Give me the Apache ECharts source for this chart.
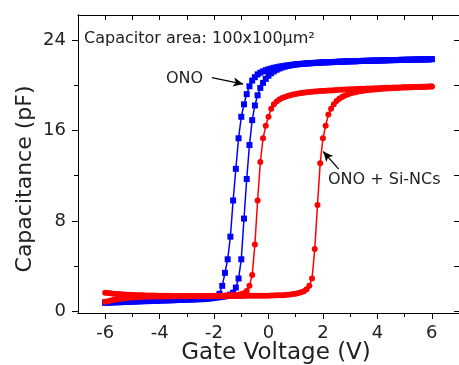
<!DOCTYPE html>
<html>
<head>
<meta charset="utf-8">
<script src="https://cdn.jsdelivr.net/npm/echarts@6/dist/echarts.min.js"></script>
<style>
  html, body { margin: 0; padding: 0; background: #fff; }
  #chart { width: 459px; height: 365px; }
</style>
</head>
<body>
<div id="chart"></div>
<script>
// gate voltage sweep, V
const gateVoltage = [
  -6.0, -5.9, -5.8, -5.7, -5.6, -5.5, -5.4, -5.3, -5.2, -5.1,
  -5.0, -4.9, -4.8, -4.7, -4.6, -4.5, -4.4, -4.3, -4.2, -4.1,
  -4.0, -3.9, -3.8, -3.7, -3.6, -3.5, -3.4, -3.3, -3.2, -3.1,
  -3.0, -2.9, -2.8, -2.7, -2.6, -2.5, -2.4, -2.3, -2.2, -2.1,
  -2.0, -1.9, -1.8, -1.7, -1.6, -1.5, -1.4, -1.3, -1.2, -1.1,
  -1.0, -0.9, -0.8, -0.7, -0.6, -0.5, -0.4, -0.3, -0.2, -0.1,
  0.0, 0.1, 0.2, 0.3, 0.4, 0.5, 0.6, 0.7, 0.8, 0.9,
  1.0, 1.1, 1.2, 1.3, 1.4, 1.5, 1.6, 1.7, 1.8, 1.9,
  2.0, 2.1, 2.2, 2.3, 2.4, 2.5, 2.6, 2.7, 2.8, 2.9,
  3.0, 3.1, 3.2, 3.3, 3.4, 3.5, 3.6, 3.7, 3.8, 3.9,
  4.0, 4.1, 4.2, 4.3, 4.4, 4.5, 4.6, 4.7, 4.8, 4.9,
  5.0, 5.1, 5.2, 5.3, 5.4, 5.5, 5.6, 5.7, 5.8, 5.9,
  6.0
];

// ONO, left branch (pF)
const onoLeft = [
  0.75, 0.76, 0.77, 0.78, 0.79, 0.80, 0.81, 0.82, 0.83, 0.84,
  0.85, 0.86, 0.87, 0.88, 0.89, 0.90, 0.90, 0.91, 0.92, 0.93,
  0.94, 0.95, 0.96, 0.96, 0.97, 0.98, 0.99, 1.00, 1.00, 1.01,
  1.02, 1.03, 1.04, 1.05, 1.06, 1.07, 1.08, 1.10, 1.12, 1.15,
  1.20, 1.30, 1.55, 2.25, 3.40, 4.60, 6.60, 9.80, 12.6, 15.3,
  17.2, 18.3, 19.2, 19.9, 20.4, 20.7, 20.95, 21.1, 21.22, 21.32,
  21.40, 21.47, 21.53, 21.58, 21.63, 21.67, 21.71, 21.75, 21.78, 21.81,
  21.84, 21.86, 21.88, 21.90, 21.92, 21.94, 21.95, 21.97, 21.98, 22.00,
  22.01, 22.02, 22.03, 22.04, 22.05, 22.06, 22.07, 22.08, 22.09, 22.10,
  22.11, 22.12, 22.12, 22.13, 22.14, 22.15, 22.15, 22.16, 22.17, 22.17,
  22.18, 22.19, 22.19, 22.20, 22.21, 22.21, 22.22, 22.22, 22.23, 22.24,
  22.24, 22.25, 22.25, 22.26, 22.26, 22.27, 22.27, 22.28, 22.28, 22.29,
  22.30
];

// ONO, right branch (pF)
const onoRight = [
  0.80, 0.81, 0.82, 0.83, 0.84, 0.85, 0.86, 0.87, 0.88, 0.89,
  0.90, 0.91, 0.92, 0.93, 0.94, 0.95, 0.96, 0.97, 0.98, 0.99,
  1.00, 1.00, 1.01, 1.02, 1.03, 1.04, 1.05, 1.05, 1.06, 1.07,
  1.08, 1.09, 1.10, 1.11, 1.12, 1.13, 1.14, 1.15, 1.16, 1.18,
  1.20, 1.22, 1.25, 1.28, 1.32, 1.38, 1.48, 1.65, 2.10, 2.90,
  4.60, 8.20, 11.7, 14.7, 16.9, 18.2, 19.1, 19.75, 20.2, 20.55,
  20.83, 21.05, 21.22, 21.36, 21.47, 21.56, 21.63, 21.69, 21.74, 21.78,
  21.82, 21.85, 21.87, 21.89, 21.91, 21.93, 21.94, 21.96, 21.97, 21.99,
  22.00, 22.01, 22.02, 22.03, 22.04, 22.05, 22.06, 22.07, 22.08, 22.09,
  22.10, 22.11, 22.11, 22.12, 22.13, 22.14, 22.14, 22.15, 22.16, 22.16,
  22.17, 22.18, 22.18, 22.19, 22.20, 22.20, 22.21, 22.21, 22.22, 22.23,
  22.23, 22.24, 22.24, 22.25, 22.25, 22.26, 22.26, 22.27, 22.27, 22.28,
  22.29
];

// ONO + Si-NCs, left branch (pF)
const ncLeft = [
  0.85, 0.90, 0.95, 1.00, 1.04, 1.08, 1.12, 1.15, 1.18, 1.20,
  1.22, 1.24, 1.26, 1.27, 1.28, 1.29, 1.30, 1.30, 1.31, 1.31,
  1.32, 1.32, 1.32, 1.33, 1.33, 1.33, 1.33, 1.34, 1.34, 1.34,
  1.34, 1.34, 1.35, 1.35, 1.35, 1.35, 1.35, 1.36, 1.36, 1.36,
  1.37, 1.37, 1.38, 1.38, 1.39, 1.40, 1.41, 1.42, 1.44, 1.47,
  1.52, 1.60, 1.80, 2.25, 3.20, 5.90, 9.80, 13.2, 15.3, 16.4,
  17.2, 17.9, 18.3, 18.55, 18.72, 18.85, 18.95, 19.03, 19.10, 19.16,
  19.21, 19.26, 19.30, 19.33, 19.36, 19.39, 19.41, 19.43, 19.45, 19.47,
  19.49, 19.50, 19.52, 19.53, 19.55, 19.56, 19.58, 19.59, 19.61, 19.62,
  19.63, 19.64, 19.65, 19.66, 19.67, 19.68, 19.69, 19.70, 19.71, 19.72,
  19.73, 19.74, 19.75, 19.76, 19.77, 19.77, 19.78, 19.79, 19.80, 19.80,
  19.81, 19.82, 19.82, 19.83, 19.84, 19.84, 19.85, 19.86, 19.86, 19.87,
  19.88
];

// ONO + Si-NCs, right branch (pF)
const ncRight = [
  1.65, 1.62, 1.59, 1.56, 1.54, 1.52, 1.50, 1.48, 1.47, 1.46,
  1.45, 1.44, 1.43, 1.42, 1.41, 1.40, 1.40, 1.39, 1.39, 1.38,
  1.38, 1.38, 1.37, 1.37, 1.37, 1.36, 1.36, 1.36, 1.36, 1.35,
  1.35, 1.35, 1.35, 1.35, 1.35, 1.35, 1.35, 1.35, 1.35, 1.35,
  1.35, 1.35, 1.35, 1.35, 1.35, 1.35, 1.36, 1.36, 1.36, 1.36,
  1.36, 1.36, 1.37, 1.37, 1.37, 1.37, 1.38, 1.38, 1.38, 1.38,
  1.38, 1.39, 1.40, 1.41, 1.42, 1.43, 1.45, 1.47, 1.49, 1.52,
  1.56, 1.61, 1.68, 1.78, 1.95, 2.25, 2.90, 5.50, 9.40, 13.1,
  15.3, 16.4, 17.4, 17.9, 18.3, 18.6, 18.8, 18.95, 19.07, 19.17,
  19.25, 19.32, 19.38, 19.43, 19.47, 19.51, 19.54, 19.57, 19.60, 19.62,
  19.64, 19.66, 19.68, 19.70, 19.71, 19.73, 19.74, 19.75, 19.77, 19.78,
  19.79, 19.80, 19.81, 19.82, 19.83, 19.84, 19.84, 19.85, 19.86, 19.87,
  19.88
];

const xTicks = [-6, -4, -2, 0, 2, 4, 6];
const xMinorTicks = [-5, -3, -1, 1, 3, 5];
const yTicks = [0, 8, 16, 24];
const yMinorTicks = [4, 12, 20];

const chartDom = document.getElementById('chart');
const chart = echarts.init(chartDom, null, { renderer: 'canvas' });

const FONT = 'DejaVu Sans';
const BLUE = '#0000ff';
const RED = '#ff0000';

const pairs = (vals) => gateVoltage.map((v, i) => [v, vals[i]]);

const baseAxis = {
  type: 'value',
  axisLine: { show: true, onZero: false, lineStyle: { color: '#000', width: 1 } },
  splitLine: { show: false },
};

const arrowLine = (from, to) => ({
  silent: true,
  symbol: ['none', 'arrow'],
  symbolSize: [7, 10],
  label: { show: false },
  lineStyle: { color: '#000', width: 1.2, type: 'solid' },
  emphasis: { disabled: true },
  data: [[{ coord: from }, { coord: to }]],
});

const lineSeries = (name, vals, color, symbol, mark) => ({
  name: name,
  type: 'line',
  data: pairs(vals),
  xAxisIndex: 0,
  yAxisIndex: 0,
  symbol: symbol,
  symbolSize: 6,
  showSymbol: true,
  lineStyle: { color: color, width: 1.5 },
  itemStyle: { color: color },
  emphasis: { disabled: true },
  markLine: mark,
});

const option = {
  animation: false,
  grid: { left: 78, top: 15, width: 385, height: 298 },
  xAxis: [
    Object.assign({}, baseAxis, {
      min: -7, max: 7, position: 'bottom',
      axisTick: { show: true, customValues: xTicks, length: 6, lineStyle: { color: '#000' } },
      axisLabel: {
        customValues: xTicks, margin: 11, color: '#222',
        fontFamily: FONT, fontSize: 18,
      },
    }),
    Object.assign({}, baseAxis, {
      min: -7, max: 7, position: 'bottom',
      axisTick: { show: true, customValues: xMinorTicks, length: 4, lineStyle: { color: '#000' } },
      axisLabel: { show: false },
    }),
    Object.assign({}, baseAxis, {
      min: -7, max: 7, position: 'top',
      axisTick: { show: true, inside: true, customValues: xTicks.concat(xMinorTicks), length: 5, lineStyle: { color: '#000' } },
      axisLabel: { show: false },
    }),
  ],
  yAxis: [
    Object.assign({}, baseAxis, {
      min: -0.15, max: 26.2, position: 'left',
      axisTick: { show: true, customValues: yTicks, length: 6, lineStyle: { color: '#000' } },
      axisLabel: {
        customValues: yTicks, margin: 12, color: '#222',
        fontFamily: FONT, fontSize: 18,
      },
    }),
    Object.assign({}, baseAxis, {
      min: -0.15, max: 26.2, position: 'left',
      axisTick: { show: true, customValues: yMinorTicks, length: 4, lineStyle: { color: '#000' } },
      axisLabel: { show: false },
    }),
    Object.assign({}, baseAxis, {
      min: -0.15, max: 26.2, position: 'right',
      axisTick: { show: true, inside: true, customValues: yTicks.concat(yMinorTicks), length: 5, lineStyle: { color: '#000' } },
      axisLabel: { show: false },
    }),
  ],
  graphic: [
    {
      type: 'text', x: 84, y: 38.5,
      style: { text: 'Capacitor area: 100x100\u03bcm\u00b2', fill: '#222', font: '16px "' + FONT + '"', align: 'left', verticalAlign: 'middle' },
    },
    {
      type: 'text', x: 166, y: 78.5,
      style: { text: 'ONO', fill: '#222', font: '16px "' + FONT + '"', align: 'left', verticalAlign: 'middle' },
    },
    {
      type: 'text', x: 328, y: 180,
      style: { text: 'ONO + Si-NCs', fill: '#222', font: '16px "' + FONT + '"', align: 'left', verticalAlign: 'middle' },
    },
    {
      type: 'text', x: 276, y: 353.5,
      style: { text: 'Gate Voltage (V)', fill: '#222', font: '23px "' + FONT + '"', align: 'center', verticalAlign: 'middle' },
    },
    {
      type: 'text', x: 25, y: 179, rotation: Math.PI / 2,
      style: { text: 'Capacitance (pF)', fill: '#222', font: '22px "' + FONT + '"', align: 'center', verticalAlign: 'middle' },
    },
  ],
  series: [
    lineSeries('ONO sweep 1', onoLeft, BLUE, 'rect', arrowLine([-2.08, 20.67], [-0.93, 20.09])),
    lineSeries('ONO sweep 2', onoRight, BLUE, 'rect'),
    lineSeries('ONO + Si-NCs sweep 1', ncLeft, RED, 'circle', arrowLine([2.58, 12.57], [2.01, 14.13])),
    lineSeries('ONO + Si-NCs sweep 2', ncRight, RED, 'circle'),
  ],
};

chart.setOption(option);
window.addEventListener('resize', () => chart.resize());
</script>
</body>
</html>
